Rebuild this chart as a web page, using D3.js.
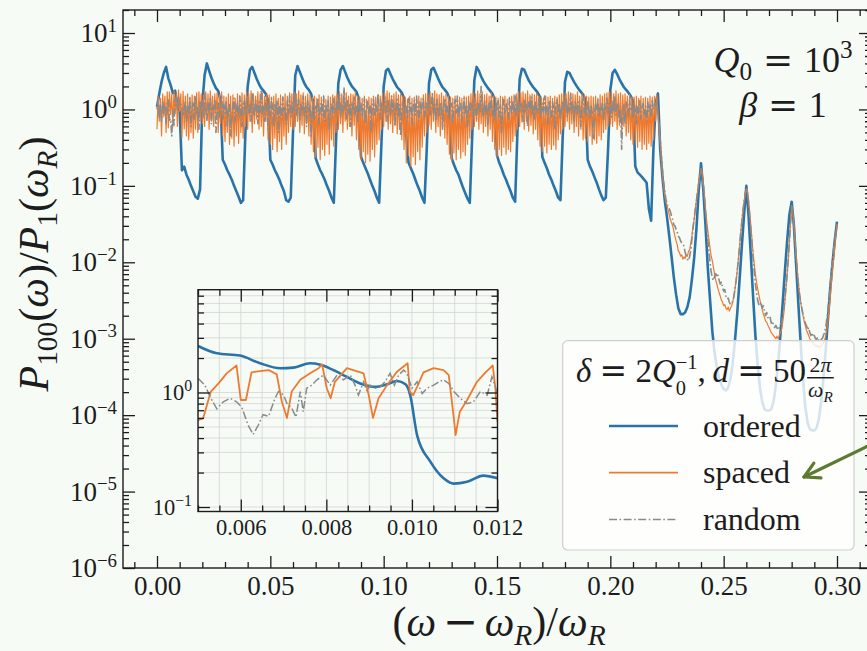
<!DOCTYPE html>
<html>
<head>
<meta charset="utf-8">
<script src="https://cdn.jsdelivr.net/npm/d3@7"></script>
<style>
  html, body { margin: 0; padding: 0; background: #f7fbf6; }
  svg { display: block; }
  text { font-family: "Liberation Serif", "DejaVu Serif", serif; fill: #1c1c1c; }
</style>
</head>
<body>
<svg id="chart" width="867" height="651"></svg>
<script>
// ---------------------------------------------------------------
// Spectra P_100(w)/P_1(w_R) versus (w - w_R)/w_R
// ordered: sampled every 0.001 from 0; spaced / random: every 0.0005 from 0
// ---------------------------------------------------------------
const orderedStep = 0.001;
const fineStep = 0.0005;

const ordered = [
  1.08,1.6,2.3,3.0,3.6,2.55,2.1,1.63,1.76,1.15,
  0.95,0.16,0.178,0.14,0.12,0.1,0.085,0.072,0.068,0.09,
  1.2,2.8,4.0,3.2,2.6,2.2,1.9,1.75,1.3,0.22,
  0.19,0.16,0.14,0.12,0.1,0.085,0.072,0.06,0.065,0.5,
  2.0,3.3,3.6,3.0,2.5,2.15,1.9,1.75,1.6,1.3,
  0.22,0.19,0.16,0.14,0.12,0.1,0.085,0.065,0.062,0.07,
  0.5,2.8,3.7,3.1,2.6,2.2,1.95,1.8,1.6,1.2,
  0.23,0.19,0.16,0.14,0.12,0.1,0.085,0.07,0.06,0.4,
  2.2,3.3,3.7,3.1,2.6,2.25,2.0,1.85,1.7,1.4,
  0.24,0.2,0.17,0.145,0.12,0.1,0.085,0.07,0.06,0.35,
  2.0,3.2,3.4,2.9,2.5,2.2,1.95,1.8,1.65,1.4,
  0.45,0.2,0.17,0.145,0.12,0.1,0.085,0.07,0.06,0.3,
  2.2,3.3,3.5,3.0,2.55,2.2,1.95,1.8,1.65,1.4,
  0.23,0.19,0.16,0.14,0.115,0.095,0.08,0.068,0.06,0.4,
  2.4,3.6,3.2,2.7,2.35,2.1,1.9,1.75,1.6,1.35,
  0.25,0.2,0.17,0.14,0.12,0.1,0.085,0.07,0.062,0.5,
  2.5,3.4,3.3,2.8,2.4,2.15,1.95,1.8,1.65,1.45,
  0.24,0.2,0.17,0.14,0.12,0.1,0.085,0.07,0.065,0.45,
  2.3,3.1,3.0,2.6,2.3,2.05,1.85,1.7,1.55,1.35,
  0.22,0.18,0.155,0.13,0.11,0.09,0.075,0.065,0.07,0.3,
  1.8,3.0,3.3,2.9,2.5,2.2,1.95,1.8,1.65,1.5,
  1.3,0.18,0.15,0.14,0.13,0.12,0.11,0.05,0.035,0.3,
  1.2,1.62,0.3,0.13,0.065,0.039,0.022,0.012,0.0064,0.0038,
  0.0025,0.0021,0.0021,0.0022,0.0026,0.0035,0.006,0.0115,0.028,0.088,
  0.197,0.09,0.03,0.0085,0.0032,0.00125,0.00065,0.00042,0.0003,0.00025,
  0.00022,0.00021,0.00023,0.0003,0.00048,0.00095,0.0022,0.0058,0.016,0.042,
  0.1,0.04,0.012,0.0035,0.0011,0.00045,0.00023,0.00015,0.00012,0.000115,
  0.000115,0.00012,0.00015,0.00024,0.00045,0.0011,0.0028,0.0075,0.019,0.042,
  0.062,0.03,0.009,0.0027,0.00085,0.0003,0.00013,0.00008,0.000066,0.000063,
  0.000063,0.000068,0.00009,0.00015,0.0003,0.0007,0.0018,0.0045,0.0095,0.019,
  0.034
];

const spaced = [
  0.55,1.5,0.7,1.4,0.45,1.6,0.8,1.5,0.5,1.7,0.575,1.7,0.86,1.57,0.6,1.76,0.89,1.6,0.6,1.8,
  0.95,1.6,0.425,1.72,0.555,1.5,0.45,1.6,0.4,1.45,0.5,1.55,0.42,1.5,0.55,1.65,0.5,1.7,0.7,1.6,
  0.65,1.55,0.6,1.7,0.75,1.6,0.55,1.75,0.7,1.5,0.6,1.6,0.8,1.65,0.5,1.55,0.65,1.7,0.45,1.5,
  0.38,1.45,0.5,1.6,0.35,1.5,0.42,1.55,0.33,1.4,0.45,1.6,0.36,1.5,0.5,1.65,0.42,1.55,0.6,1.7,
  0.55,1.6,0.7,1.75,0.5,1.6,0.65,1.5,0.75,1.7,0.55,1.6,0.6,1.65,0.45,1.5,0.7,1.6,0.4,1.55,
  0.35,1.45,0.3,1.5,0.42,1.6,0.28,1.4,0.38,1.55,0.3,1.45,0.45,1.6,0.35,1.5,0.5,1.65,0.6,1.6,
  0.55,1.7,0.6,1.6,0.7,1.75,0.5,1.55,0.62,1.65,0.48,1.5,0.65,1.6,0.45,1.55,0.35,1.45,0.28,1.5,
  0.24,1.4,0.32,1.55,0.22,1.45,0.3,1.5,0.25,1.35,0.35,1.5,0.26,1.45,0.4,1.55,0.33,1.5,0.5,1.6,
  0.55,1.7,0.65,1.6,0.5,1.75,0.7,1.65,0.55,1.5,0.6,1.6,0.45,1.55,0.62,1.7,0.4,1.5,0.3,1.45,
  0.22,1.4,0.28,1.5,0.2,1.35,0.26,1.45,0.21,1.4,0.3,1.5,0.24,1.45,0.35,1.55,0.4,1.5,0.55,1.65,
  0.6,1.6,0.7,1.75,0.55,1.65,0.65,1.5,0.5,1.6,0.62,1.7,0.48,1.55,0.55,1.6,0.4,1.5,0.3,1.45,
  0.2,1.35,0.25,1.5,0.18,1.4,0.24,1.45,0.19,1.35,0.28,1.5,0.22,1.4,0.32,1.55,0.45,1.6,0.5,1.6,
  0.62,1.7,0.55,1.6,0.7,1.75,0.5,1.6,0.6,1.55,0.45,1.65,0.58,1.5,0.42,1.6,0.35,1.5,0.26,1.45,
  0.21,1.4,0.27,1.5,0.22,1.35,0.3,1.45,0.23,1.4,0.28,1.5,0.25,1.45,0.35,1.5,0.42,1.6,0.55,1.65,
  0.6,1.6,0.7,1.75,0.55,1.6,0.65,1.7,0.5,1.55,0.6,1.6,0.45,1.5,0.55,1.65,0.38,1.5,0.3,1.45,
  0.24,1.4,0.3,1.5,0.25,1.45,0.32,1.5,0.26,1.35,0.3,1.45,0.28,1.5,0.38,1.55,0.45,1.6,0.55,1.7,
  0.6,1.65,0.68,1.7,0.55,1.6,0.7,1.75,0.52,1.55,0.62,1.6,0.48,1.55,0.55,1.65,0.4,1.5,0.33,1.45,
  0.28,1.4,0.33,1.5,0.27,1.45,0.35,1.5,0.3,1.4,0.34,1.5,0.3,1.45,0.4,1.55,0.48,1.6,0.55,1.65,
  0.6,1.6,0.7,1.7,0.55,1.65,0.65,1.6,0.5,1.55,0.6,1.7,0.45,1.5,0.55,1.6,0.4,1.55,0.42,1.5,
  0.38,1.45,0.45,1.5,0.35,1.45,0.4,1.5,0.36,1.4,0.45,1.55,0.4,1.5,0.5,1.6,0.55,1.65,0.6,1.7,
  0.65,1.7,0.6,1.6,0.7,1.75,0.55,1.6,0.62,1.65,0.5,1.55,0.6,1.6,0.45,1.5,0.5,1.55,0.4,1.45,
  0.35,1.45,0.4,1.5,0.32,1.4,0.38,1.5,0.3,1.4,0.35,1.45,0.3,1.4,0.36,1.5,0.33,1.45,0.4,1.5,
  0.7,1.55,0.9,0.55,0.4,0.22,0.14,0.1,0.075,0.062,0.055,0.048,0.042,0.036,0.033,0.03,0.026,0.022,0.019,0.017,
  0.014,0.0135,0.012,0.0125,0.011,0.0118,0.0112,0.0125,0.012,0.014,0.0145,0.018,0.022,0.03,0.037,0.05,0.065,0.085,0.11,0.14,
  0.17,0.15,0.11,0.075,0.05,0.035,0.026,0.02,0.015,0.012,0.0105,0.0085,0.007,0.0058,0.0052,0.0045,0.004,0.0036,0.0032,0.003,
  0.0027,0.0028,0.0025,0.0024,0.0026,0.0023,0.0025,0.0027,0.003,0.0036,0.0045,0.0058,0.0078,0.011,0.016,0.024,0.034,0.047,0.062,0.08,
  0.092,0.085,0.065,0.045,0.03,0.02,0.013,0.0095,0.007,0.0055,0.0045,0.0038,0.0032,0.0028,0.0024,0.0021,0.0019,0.0017,0.00165,0.0015,
  0.0014,0.0013,0.0012,0.00115,0.0011,0.00105,0.001,0.00108,0.001,0.0011,0.0012,0.0013,0.0016,0.0021,0.003,0.0045,0.0068,0.011,0.019,0.033,
  0.055,0.045,0.03,0.019,0.012,0.0078,0.0052,0.0038,0.003,0.0024,0.002,0.0017,0.0015,0.0013,0.0012,0.0011,0.001,0.00095,0.0009,0.00086,
  0.00084,0.0008,0.00082,0.00078,0.0008,0.00077,0.0008,0.00083,0.00088,0.00095,0.0011,0.0013,0.0017,0.0024,0.0035,0.0052,0.0078,0.011,0.016,0.024,
  0.032
];

const random = [
  1.0,1.25,0.8,1.15,0.7,1.3,0.9,1.1,0.65,1.2,1.33,0.72,0.75,0.45,0.95,0.62,1.3,1.42,1.0,1.47,
  1.1,1.16,1.0,0.82,0.95,1.3,0.7,1.1,0.85,1.4,0.6,1.0,1.2,0.75,1.5,0.9,1.1,0.55,1.25,0.95,
  1.3,0.8,1.6,1.0,0.7,1.2,0.9,1.45,0.65,1.1,1.0,1.35,0.5,0.9,1.2,0.8,1.05,1.55,0.75,1.15,
  0.9,1.3,0.6,1.0,1.2,0.45,0.85,1.1,1.4,0.7,1.0,1.25,0.8,1.5,0.95,0.6,1.15,1.3,0.85,1.1,
  1.45,0.9,1.2,0.7,1.6,1.0,0.8,1.3,1.1,0.65,1.25,0.95,1.8,0.85,1.1,0.7,1.35,1.0,0.55,1.2,
  0.8,1.4,1.0,0.6,1.15,0.9,1.3,0.5,1.05,1.2,0.75,1.45,0.95,1.1,0.65,1.3,0.9,1.5,1.0,0.8,
  1.25,0.95,1.6,0.85,1.1,1.35,0.7,1.2,1.0,1.5,0.8,1.1,0.6,1.3,0.95,1.15,0.45,1.0,1.25,0.75,
  1.1,0.9,1.4,0.65,1.0,1.25,0.85,1.5,0.7,1.15,0.95,1.3,0.55,1.05,1.2,0.8,1.4,1.0,0.9,1.3,
  1.0,1.55,0.8,1.2,0.95,1.9,1.1,0.75,1.3,0.9,1.15,0.6,1.25,1.0,1.45,0.85,1.1,0.7,1.35,0.95,
  1.2,0.8,1.05,1.4,0.65,1.0,1.3,0.9,1.15,0.5,1.1,1.35,0.85,1.2,0.95,1.6,1.0,0.75,1.25,1.1,
  0.9,1.45,1.0,0.7,1.3,1.1,0.85,1.5,0.95,1.2,0.6,1.05,1.35,0.8,1.15,0.45,1.0,1.3,0.9,1.2,
  1.05,0.75,1.4,0.95,1.2,0.65,1.1,1.3,0.85,1.5,1.0,0.7,1.25,0.9,1.15,1.4,0.8,1.05,1.2,0.95,
  1.3,0.85,1.1,1.6,0.9,1.2,0.7,1.35,1.0,0.8,1.25,1.05,0.55,1.15,1.4,0.9,1.1,0.75,1.3,1.0,
  1.2,0.65,1.05,1.35,0.9,1.5,0.8,1.1,1.25,0.7,1.0,1.4,0.85,1.15,0.6,1.3,0.95,1.2,1.05,0.8,
  1.4,1.0,0.75,1.25,1.1,0.9,2.0,1.05,0.8,1.3,0.95,1.15,0.65,1.2,1.0,1.45,0.85,1.1,0.7,1.25,
  0.95,1.3,0.8,1.15,0.5,1.05,1.35,0.9,1.2,1.0,0.75,1.4,1.1,0.85,1.25,0.95,1.5,0.8,1.1,1.3,
  0.9,1.2,1.05,0.7,1.35,0.95,1.15,0.6,1.25,1.0,1.45,0.85,1.1,0.75,1.3,1.05,0.9,1.4,1.0,0.8,
  1.2,0.95,1.5,0.85,1.1,0.65,1.3,1.0,0.8,1.25,1.05,0.55,1.15,1.35,0.9,1.2,0.75,1.1,1.3,0.95,
  1.1,1.4,0.8,1.2,0.95,1.6,0.9,1.15,0.7,1.3,1.0,0.85,1.25,1.05,0.6,1.2,1.4,0.9,1.1,0.8,
  1.3,1.0,0.75,1.15,0.9,0.42,0.85,1.2,1.0,1.35,0.8,1.1,0.95,1.25,0.7,1.15,1.0,1.4,0.9,1.2,
  1.05,0.8,1.3,0.95,1.45,0.85,1.1,1.2,0.7,1.0,0.3,0.9,1.15,0.65,1.25,1.0,0.85,1.35,0.95,1.1,
  0.8,1.2,1.0,0.65,1.15,0.9,1.3,0.75,1.05,1.2,0.85,1.1,0.7,1.25,0.95,1.15,0.8,1.3,1.0,1.15,
  1.1,1.3,0.9,0.6,0.4,0.25,0.16,0.11,0.085,0.068,0.058,0.052,0.05,0.046,0.04,0.036,0.031,0.03,0.027,0.025,
  0.022,0.021,0.019,0.018,0.0175,0.016,0.0135,0.012,0.011,0.0105,0.012,0.0145,0.02,0.028,0.037,0.05,0.065,0.085,0.11,0.14,
  0.165,0.14,0.1,0.07,0.045,0.03,0.02,0.014,0.01,0.0075,0.0062,0.0058,0.0066,0.0071,0.0064,0.0068,0.0058,0.0052,0.0055,0.0046,
  0.0042,0.0044,0.0036,0.0033,0.0034,0.003,0.0028,0.0029,0.0031,0.0035,0.0045,0.0058,0.0078,0.011,0.016,0.024,0.034,0.047,0.062,0.078,
  0.09,0.082,0.06,0.04,0.026,0.017,0.011,0.0075,0.0052,0.004,0.0032,0.0028,0.0027,0.003,0.0025,0.0027,0.0023,0.002,0.0022,0.0019,
  0.0018,0.0019,0.0016,0.0017,0.0015,0.0014,0.0015,0.0014,0.0013,0.0014,0.0015,0.0016,0.0019,0.0024,0.0033,0.0048,0.007,0.011,0.019,0.033,
  0.053,0.043,0.029,0.018,0.011,0.0075,0.0052,0.0038,0.003,0.0025,0.0021,0.0018,0.0016,0.0015,0.0013,0.0014,0.0012,0.0011,0.0012,0.00105,
  0.0011,0.001,0.00098,0.00105,0.00095,0.001,0.00098,0.001,0.0011,0.0012,0.0014,0.0018,0.0024,0.0034,0.005,0.0075,0.011,0.015,0.02,0.026,
  0.031
];

// zoomed-in window 0.005 ... 0.012, stored as [x, value]
const insetOrdered = [
  [0.005,2.55],[0.00544,2.2],[0.00598,2.1],[0.00645,1.8],[0.00692,1.63],[0.00723,1.65],
  [0.00762,1.8],[0.00786,1.75],[0.00832,1.47],[0.00879,1.2],[0.00914,1.12],[0.00942,1.18],
  [0.00965,1.26],[0.00985,1.18],[0.00996,0.95],[0.01012,0.425],[0.01043,0.249],[0.01074,0.178],
  [0.01098,0.16],[0.01129,0.166],[0.01167,0.188],[0.012,0.178]
];
const insetSpaced = [
  [0.005,0.575],[0.00512,0.595],[0.0053,1.02],[0.00548,1.2],[0.00567,1.47],[0.0059,1.72],
  [0.006,0.86],[0.00612,0.86],[0.00625,1.5],[0.00645,1.54],[0.00665,1.57],[0.00684,1.44],
  [0.00696,0.83],[0.00708,0.6],[0.00719,1.02],[0.00739,1.29],[0.00762,1.47],[0.00782,1.63],
  [0.0079,1.76],[0.00801,1.09],[0.0081,0.89],[0.0082,1.24],[0.00848,1.63],[0.00863,1.57],
  [0.00887,1.47],[0.00899,0.95],[0.00909,0.6],[0.00922,0.89],[0.00942,1.16],[0.00965,1.52],
  [0.0099,1.8],[0.00995,1.02],[0.01003,0.95],[0.01012,1.12],[0.01027,1.5],[0.01051,1.63],
  [0.01074,1.57],[0.01086,1.42],[0.01098,0.595],[0.01102,0.425],[0.01112,0.68],[0.01129,0.86],
  [0.01152,1.24],[0.01172,1.5],[0.01189,1.72],[0.01195,1.09],[0.012,0.555]
];
const insetRandom = [
  [0.005,1.33],[0.00516,1.16],[0.0053,0.89],[0.00544,0.72],[0.00559,0.83],[0.00575,0.89],
  [0.0059,0.83],[0.00602,0.75],[0.00617,0.52],[0.00629,0.43],[0.00641,0.52],[0.00652,0.64],
  [0.00665,0.62],[0.0068,0.89],[0.00688,1.02],[0.007,0.95],[0.00708,0.8],[0.00719,0.73],
  [0.00729,0.61],[0.00739,1.02],[0.00746,0.68],[0.00754,1.09],[0.00766,1.16],[0.00778,1.29],
  [0.00793,1.42],[0.00809,1.16],[0.00825,1.42],[0.0084,1.29],[0.00856,1.42],[0.00867,1.16],
  [0.00875,0.95],[0.00887,1.24],[0.00895,1.02],[0.00902,1.16],[0.00914,1.09],[0.00926,1.12],
  [0.00937,1.24],[0.00949,1.47],[0.00959,1.16],[0.00969,1.42],[0.00981,1.57],[0.00988,1.47],
  [0.01,1.09],[0.01012,1.24],[0.01024,0.98],[0.01035,1.09],[0.01051,1.16],[0.01063,1.24],
  [0.01074,1.29],[0.01086,1.2],[0.01098,1.02],[0.01113,0.89],[0.01129,0.8],[0.01144,0.83],
  [0.0116,1.02],[0.01176,0.95],[0.01187,1.37],[0.01195,1.12],[0.012,0.95]
];

const xTickValues = [0.00, 0.05, 0.10, 0.15, 0.20, 0.25, 0.30];
const yTickExponents = [-6, -5, -4, -3, -2, -1, 0, 1];
const insetXTickValues = [0.006, 0.008, 0.010, 0.012];
const insetYTickExponents = [-1, 0];
const seriesNames = ["ordered", "spaced", "random"];

// ---------------------------------------------------------------
const INK = "#1c1c1c";
const BG = "#f7fbf6";
const COLORS = { ordered: "#2a73a8", spaced: "#ee7a30", random: "#8a8a8a" };
const DASH = "8,2.5,1.6,2.5";
const FONT = '"Liberation Serif", "DejaVu Serif", serif';
const OPFONT = '"DejaVu Serif", serif';   // wider operator glyphs (=, −)

const svg = d3.select("#chart");
svg.append("rect").attr("width", 867).attr("height", 651).attr("fill", BG);

// lay out a run of text pieces (italic / sub / sup / stacked / fraction) on one baseline
function drawRow(g, pieces, fs) {
  let cx = 0, stackX = null, stackEnd = 0;
  for (const p of pieces) {
    const gap = (p.dx || 0) * fs;
    if (p.frac) {
      const fsz = fs * p.frac.s;
      const sub = g.append("g");
      const ng = sub.append("g"), dg = sub.append("g");
      const nw = drawRow(ng, p.frac.num, fsz);
      const dw = drawRow(dg, p.frac.den, fsz);
      const w = Math.max(nw, dw) + 0.12 * fs;
      const x0 = cx + gap;
      ng.attr("transform", `translate(${x0 + (w - nw) / 2},${p.frac.ny * fs})`);
      dg.attr("transform", `translate(${x0 + (w - dw) / 2},${p.frac.dy * fs})`);
      sub.append("line")
        .attr("x1", x0 + 0.03 * fs).attr("x2", x0 + w - 0.03 * fs)
        .attr("y1", p.frac.ly * fs).attr("y2", p.frac.ly * fs)
        .attr("stroke", INK).attr("stroke-width", Math.max(1, 0.045 * fs));
      cx = x0 + w;
      continue;
    }
    const startX = stackX !== null ? stackX : cx;
    const px = startX + gap;
    const el = g.append("text")
      .attr("x", px).attr("y", (p.dy || 0) * fs)
      .attr("font-size", fs * (p.s || 1))
      .attr("font-style", p.i ? "italic" : "normal")
      .text(p.t);
    if (p.op) el.style("font-family", OPFONT);
    const end = px + el.node().getComputedTextLength();
    if (p.ov) { stackX = startX; stackEnd = end; }
    else if (stackX !== null) { cx = Math.max(stackEnd, end); stackX = null; }
    else cx = end;
  }
  return cx;
}

function placeRow(parent, pieces, fs, x, y, anchor) {
  const g = parent.append("g");
  const w = drawRow(g, pieces, fs);
  const off = anchor === "middle" ? w / 2 : anchor === "end" ? w : 0;
  g.attr("transform", `translate(${x - off},${y})`);
  return g;
}

function cleanAxis(g) {
  g.select(".domain").remove();
  g.selectAll(".tick line").attr("stroke", INK).attr("stroke-width", 1.3);
  g.attr("font-family", FONT).attr("color", INK);
}

function logMinor(lo, hi) {
  const out = [];
  for (let e = Math.floor(Math.log10(lo)); e <= Math.ceil(Math.log10(hi)); e++) {
    for (let m = 2; m <= 9; m++) {
      const v = m * Math.pow(10, e);
      if (v >= lo && v <= hi) out.push(v);
    }
  }
  return out;
}

// ----------------------------- main axes -----------------------------
const M = { l: 123, t: 10, r: 871, b: 568 };
const x = d3.scaleLinear().domain([-0.015, 0.315]).range([M.l, M.r]);
const y = d3.scaleLog().domain([1e-6, 20]).range([M.b, M.t]);

const defs = svg.append("defs");
defs.append("clipPath").attr("id", "clipMain").append("rect")
  .attr("x", M.l).attr("y", M.t).attr("width", M.r - M.l).attr("height", M.b - M.t);

const plot = svg.append("g").attr("clip-path", "url(#clipMain)");
const lineOrdered = d3.line().x((d, i) => x(i * orderedStep)).y(d => y(d));
const lineFine = d3.line().x((d, i) => x(i * fineStep)).y(d => y(d));

plot.append("path").datum(ordered).attr("d", lineOrdered)
  .attr("fill", "none").attr("stroke", COLORS.ordered).attr("stroke-width", 2.6)
  .attr("stroke-linejoin", "round");
plot.append("path").datum(spaced).attr("d", lineFine)
  .attr("fill", "none").attr("stroke", COLORS.spaced).attr("stroke-width", 1.2)
  .attr("stroke-linejoin", "round");
plot.append("path").datum(random).attr("d", lineFine)
  .attr("fill", "none").attr("stroke", COLORS.random).attr("stroke-width", 1.6)
  .attr("stroke-dasharray", DASH).attr("stroke-linejoin", "round");

// ticks (inward, all four sides)
const xMinor = d3.range(-1, 32).map(k => k / 100).filter(v => !xTickValues.some(t => Math.abs(t - v) < 1e-9));
const yMajor = yTickExponents.map(e => Math.pow(10, e));
const yMinor = logMinor(1e-6, 20);

const gB = svg.append("g").attr("transform", `translate(0,${M.b})`);
gB.append("g").call(d3.axisBottom(x).tickValues(xMinor).tickSize(-6).tickFormat("")).call(cleanAxis);
gB.append("g").call(d3.axisBottom(x).tickValues(xTickValues).tickSize(-12).tickPadding(8)
  .tickFormat(d3.format(".2f"))).call(cleanAxis).attr("font-size", 27);
const gT = svg.append("g").attr("transform", `translate(0,${M.t})`);
gT.append("g").call(d3.axisTop(x).tickValues(xMinor).tickSize(-6).tickFormat("")).call(cleanAxis);
gT.append("g").call(d3.axisTop(x).tickValues(xTickValues).tickSize(-12).tickFormat("")).call(cleanAxis);
const gL = svg.append("g").attr("transform", `translate(${M.l},0)`);
gL.append("g").call(d3.axisLeft(y).tickValues(yMinor).tickSize(-6).tickFormat("")).call(cleanAxis);
gL.append("g").call(d3.axisLeft(y).tickValues(yMajor).tickSize(-12).tickFormat("")).call(cleanAxis);
const gR = svg.append("g").attr("transform", `translate(${M.r},0)`);
gR.append("g").call(d3.axisRight(y).tickValues(yMinor).tickSize(-6).tickFormat("")).call(cleanAxis);
gR.append("g").call(d3.axisRight(y).tickValues(yMajor).tickSize(-12).tickFormat("")).call(cleanAxis);

svg.append("rect").attr("x", M.l).attr("y", M.t).attr("width", M.r - M.l).attr("height", M.b - M.t)
  .attr("fill", "none").attr("stroke", INK).attr("stroke-width", 1.4);

// y tick labels 10^n
const yLab = svg.append("g");
yTickExponents.forEach(e => {
  const ex = e < 0 ? "\u2212" + (-e) : String(e);
  placeRow(yLab, [{ t: "10" }, { t: ex, s: 0.7, dy: -0.38 }], 27, 117, y(Math.pow(10, e)) + 9, "end");
});

// axis titles
{
  const fs = 42;
  const g = svg.append("g");
  const w = drawRow(g, [
    { t: "P", i: 1 }, { t: "100", s: 0.7, dy: 0.22 }, { t: "(" }, { t: "ω", i: 1 }, { t: ")" },
    { t: "/" }, { t: "P", i: 1 }, { t: "1", s: 0.7, dy: 0.22 }, { t: "(" }, { t: "ω", i: 1 },
    { t: "R", i: 1, s: 0.7, dy: 0.22 }, { t: ")" }
  ], fs);
  g.attr("transform", `translate(48,264) rotate(-90) translate(${-w / 2},0)`);
}
placeRow(svg, [
  { t: "(" }, { t: "ω", i: 1 }, { t: "\u2212", op: 1, dx: 0.16 }, { t: "ω", i: 1, dx: 0.16 },
  { t: "R", i: 1, s: 0.7, dy: 0.22 }, { t: ")" }, { t: "/" }, { t: "ω", i: 1 },
  { t: "R", i: 1, s: 0.7, dy: 0.22 }
], 42, 499, 636, "middle");

// parameter annotation
placeRow(svg, [
  { t: "Q", i: 1 }, { t: "0", s: 0.7, dy: 0.22 }, { t: "=", op: 1, dx: 0.3 }, { t: "10", dx: 0.3 },
  { t: "3", s: 0.7, dy: -0.4 }
], 36, 783, 72, "middle");
placeRow(svg, [{ t: "β", i: 1 }, { t: "=", op: 1, dx: 0.3 }, { t: "1", dx: 0.3 }], 36, 783, 117, "middle");

// ----------------------------- inset -----------------------------
const I = { l: 198, t: 289.7, r: 497.5, b: 511.5 };
const xi = d3.scaleLinear().domain([0.005, 0.012]).range([I.l, I.r]);
const yi = d3.scaleLog().domain([0.0914, 7.9]).range([I.b, I.t]);
svg.append("rect").attr("x", I.l).attr("y", I.t).attr("width", I.r - I.l).attr("height", I.b - I.t)
  .attr("fill", BG);
defs.append("clipPath").attr("id", "clipInset").append("rect")
  .attr("x", I.l).attr("y", I.t).attr("width", I.r - I.l).attr("height", I.b - I.t);

const xiMinor = d3.range(10, 25).map(k => k * 0.0005).filter(v => !insetXTickValues.some(t => Math.abs(t - v) < 1e-9));
const yiMajor = insetYTickExponents.map(e => Math.pow(10, e));
const yiMinor = logMinor(0.0914, 7.9);

const grid = svg.append("g").attr("clip-path", "url(#clipInset)");
grid.selectAll("line.gx").data(xiMinor.concat(insetXTickValues)).join("line")
  .attr("x1", d => xi(d)).attr("x2", d => xi(d)).attr("y1", I.t).attr("y2", I.b)
  .attr("stroke", "#d6d9d6").attr("stroke-width", 0.9);
grid.selectAll("line.gy").data(yiMinor.concat(yiMajor)).join("line")
  .attr("y1", d => yi(d)).attr("y2", d => yi(d)).attr("x1", I.l).attr("x2", I.r)
  .attr("stroke", "#d6d9d6").attr("stroke-width", 0.9);

const insetPlot = svg.append("g").attr("clip-path", "url(#clipInset)");
insetPlot.append("path").datum(insetOrdered)
  .attr("d", d3.line().x(d => xi(d[0])).y(d => yi(d[1])).curve(d3.curveMonotoneX))
  .attr("fill", "none").attr("stroke", COLORS.ordered).attr("stroke-width", 2.6);
insetPlot.append("path").datum(insetSpaced)
  .attr("d", d3.line().x(d => xi(d[0])).y(d => yi(d[1])))
  .attr("fill", "none").attr("stroke", COLORS.spaced).attr("stroke-width", 1.8)
  .attr("stroke-linejoin", "round");
insetPlot.append("path").datum(insetRandom)
  .attr("d", d3.line().x(d => xi(d[0])).y(d => yi(d[1])))
  .attr("fill", "none").attr("stroke", COLORS.random).attr("stroke-width", 1.5)
  .attr("stroke-dasharray", DASH);

const iB = svg.append("g").attr("transform", `translate(0,${I.b})`);
iB.append("g").call(d3.axisBottom(xi).tickValues(xiMinor).tickSize(-6).tickFormat("")).call(cleanAxis);
iB.append("g").call(d3.axisBottom(xi).tickValues(insetXTickValues).tickSize(-12).tickPadding(8)
  .tickFormat(d3.format(".3f"))).call(cleanAxis).attr("font-size", 22.5);
const iT = svg.append("g").attr("transform", `translate(0,${I.t})`);
iT.append("g").call(d3.axisTop(xi).tickValues(xiMinor).tickSize(-6).tickFormat("")).call(cleanAxis);
iT.append("g").call(d3.axisTop(xi).tickValues(insetXTickValues).tickSize(-12).tickFormat("")).call(cleanAxis);
const iL = svg.append("g").attr("transform", `translate(${I.l},0)`);
iL.append("g").call(d3.axisLeft(yi).tickValues(yiMinor).tickSize(-6).tickFormat("")).call(cleanAxis);
iL.append("g").call(d3.axisLeft(yi).tickValues(yiMajor).tickSize(-12).tickFormat("")).call(cleanAxis);
const iR = svg.append("g").attr("transform", `translate(${I.r},0)`);
iR.append("g").call(d3.axisRight(yi).tickValues(yiMinor).tickSize(-6).tickFormat("")).call(cleanAxis);
iR.append("g").call(d3.axisRight(yi).tickValues(yiMajor).tickSize(-12).tickFormat("")).call(cleanAxis);
svg.append("rect").attr("x", I.l).attr("y", I.t).attr("width", I.r - I.l).attr("height", I.b - I.t)
  .attr("fill", "none").attr("stroke", INK).attr("stroke-width", 1.4);

insetYTickExponents.forEach(e => {
  const ex = e < 0 ? "\u2212" + (-e) : String(e);
  placeRow(svg, [{ t: "10" }, { t: ex, s: 0.7, dy: -0.38 }], 22.5, 192, yi(Math.pow(10, e)) + 7.5, "end");
});

// ----------------------------- legend -----------------------------
const L = { x: 562.7, y: 340.7, w: 291.3, h: 209.3 };
const leg = svg.append("g");
leg.append("rect").attr("x", L.x).attr("y", L.y).attr("width", L.w).attr("height", L.h)
  .attr("rx", 5).attr("ry", 5).attr("fill", "#ffffff").attr("fill-opacity", 0.8)
  .attr("stroke", "#cfcfcf").attr("stroke-width", 1.2);
placeRow(leg, [
  { t: "δ", i: 1 }, { t: "=", op: 1, dx: 0.25 }, { t: "2", dx: 0.25 }, { t: "Q", i: 1 },
  { t: "0", s: 0.62, dy: 0.4, ov: 1 }, { t: "\u22121", s: 0.62, dy: -0.38 }, { t: "," },
  { t: "d", i: 1, dx: 0.2 }, { t: "=", op: 1, dx: 0.25 }, { t: "50", dx: 0.25 },
  { frac: { s: 0.66, ny: -0.28, ly: -0.12, dy: 0.46,
    num: [{ t: "2" }, { t: "π", i: 1 }],
    den: [{ t: "ω", i: 1 }, { t: "R", i: 1, s: 0.7, dy: 0.22 }] } }
], 33, 576, 381.7, "start");

const legRows = [
  { name: seriesNames[0], y: 426, key: "ordered", w: 2.6, dash: null },
  { name: seriesNames[1], y: 472.7, key: "spaced", w: 1.8, dash: null },
  { name: seriesNames[2], y: 519.5, key: "random", w: 1.5, dash: DASH }
];
legRows.forEach(r => {
  leg.append("line").attr("x1", 609).attr("x2", 678).attr("y1", r.y).attr("y2", r.y)
    .attr("stroke", COLORS[r.key]).attr("stroke-width", r.w)
    .attr("stroke-dasharray", r.dash);
  leg.append("text").attr("x", 703).attr("y", r.y + 10.7).attr("font-size", 32).text(r.name);
});

// ----------------------------- pointer arrow -----------------------------
const tip = [804, 477], tail = [872, 444];
const ang = Math.atan2(tail[1] - tip[1], tail[0] - tip[0]);
const arm = 17, spread = 0.5;
const arrow = svg.append("g").attr("stroke", "#5b7c30").attr("stroke-width", 3.2)
  .attr("stroke-linecap", "round").attr("fill", "none");
arrow.append("line").attr("x1", tail[0]).attr("y1", tail[1]).attr("x2", tip[0]).attr("y2", tip[1]);
arrow.append("polyline").attr("points", [
  [tip[0] + arm * Math.cos(ang - spread), tip[1] + arm * Math.sin(ang - spread)],
  tip,
  [tip[0] + arm * Math.cos(ang + spread), tip[1] + arm * Math.sin(ang + spread)]
].map(p => p.join(",")).join(" ")).attr("stroke-linejoin", "round");
</script>
</body>
</html>
